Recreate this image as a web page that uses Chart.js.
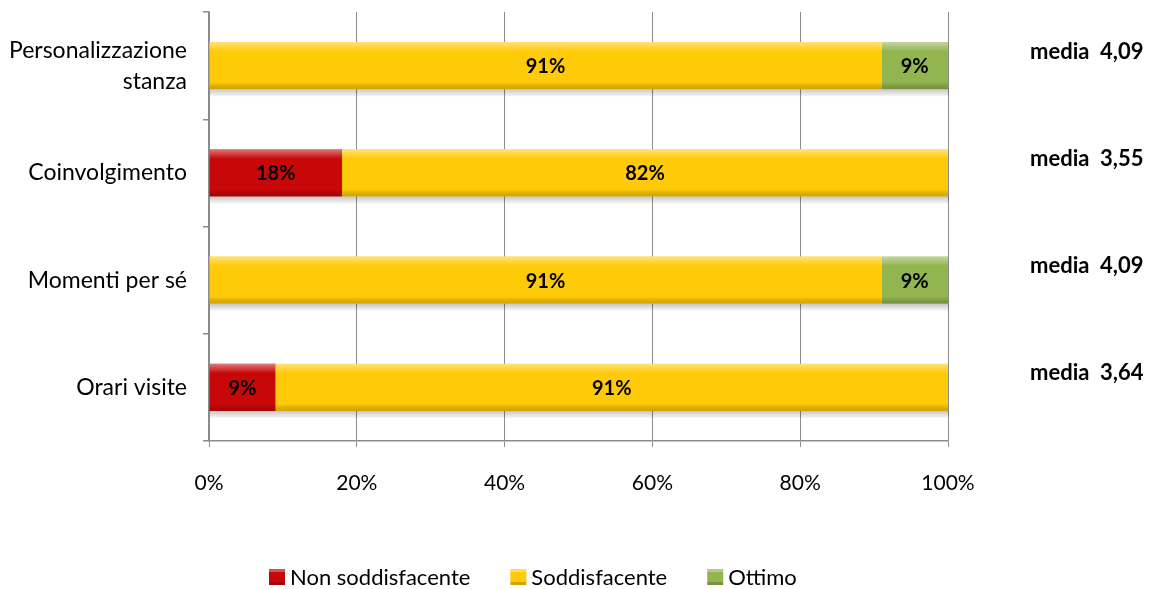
<!DOCTYPE html>
<html lang="it">
<head>
<meta charset="UTF-8">
<title>Soddisfazione</title>
<script src="https://cdn.jsdelivr.net/npm/chart.js"></script>
<style>
  html, body { margin: 0; padding: 0; background: #fff; }
  #wrap { width: 1149px; height: 589px; }
</style>
</head>
<body>
<div id="wrap"><canvas id="grafico"></canvas></div>
<script>
// categorie e percentuali per ciascun giudizio
const categorie = [['Personalizzazione', 'stanza'], 'Coinvolgimento', 'Momenti per sé', 'Orari visite'];
const nonSoddisfacente = [0, 18, 0, 9];
const soddisfacente = [91, 82, 91, 91];
const ottimo = [9, 0, 9, 0];
const medie = ['4,09', '3,55', '4,09', '3,64'];
const tickX = [0, 20, 40, 60, 80, 100];

const FONT = 'Lato, "Noto Sans", sans-serif';

// ombra grigia sotto ogni barra
const ombraBarre = {
  id: 'ombraBarre',
  beforeDatasetsDraw(chart) {
    const ctx = chart.ctx;
    const xs = chart.scales.x;
    const meta = chart.getDatasetMeta(0);
    ctx.save();
    meta.data.forEach(bar => {
      const bottom = bar.y + bar.height / 2;
      const g = ctx.createLinearGradient(0, bottom, 0, bottom + 7);
      g.addColorStop(0, 'rgba(0,0,0,0.22)');
      g.addColorStop(1, 'rgba(0,0,0,0.03)');
      ctx.fillStyle = g;
      ctx.fillRect(xs.getPixelForValue(0) + 1, bottom, xs.getPixelForValue(100) - xs.getPixelForValue(0), 7);
    });
    ctx.restore();
  }
};

// riflesso chiaro in alto e bordo scuro in basso, etichette percentuali
const rifinitura = {
  id: 'rifinitura',
  afterDatasetsDraw(chart) {
    const ctx = chart.ctx;
    ctx.save();
    chart.data.datasets.forEach((ds, i) => {
      const meta = chart.getDatasetMeta(i);
      meta.data.forEach((bar, j) => {
        const v = ds.data[j];
        if (!v) return;
        const left = Math.min(bar.x, bar.base);
        const w = Math.abs(bar.x - bar.base);
        const top = bar.y - bar.height / 2;
        const h = bar.height;
        const g = ctx.createLinearGradient(0, top, 0, top + h);
        g.addColorStop(0, 'rgba(255,255,255,0.45)');
        g.addColorStop(0.12, 'rgba(255,255,255,0.18)');
        g.addColorStop(0.2, 'rgba(255,255,255,0)');
        g.addColorStop(0.85, 'rgba(0,0,0,0)');
        g.addColorStop(0.92, 'rgba(0,0,0,0.12)');
        g.addColorStop(1, 'rgba(0,0,0,0.2)');
        ctx.fillStyle = g;
        ctx.fillRect(left, top, w, h);
        ctx.fillStyle = '#000';
        ctx.font = 'bold 20px ' + FONT;
        ctx.textAlign = 'center';
        ctx.textBaseline = 'middle';
        ctx.fillText(v + '%', left + w / 2, bar.y + 1);
      });
    });
    ctx.restore();
  }
};

// medie scritte a destra del grafico
const etichetteMedia = {
  id: 'etichetteMedia',
  afterDraw(chart) {
    const ctx = chart.ctx;
    const ys = chart.scales.y;
    ctx.save();
    ctx.fillStyle = '#000';
    ctx.font = 'bold 22px ' + FONT;
    ctx.textAlign = 'left';
    ctx.textBaseline = 'middle';
    medie.forEach((m, i) => {
      ctx.fillText('media  ' + m, 1030, ys.getPixelForValue(i) - 14);
    });
    ctx.restore();
  }
};

// legenda in basso: quadratino colorato e nome della serie
const legenda = {
  id: 'legenda',
  afterDraw(chart) {
    const ctx = chart.ctx;
    const y = 577;
    const box = 16, gap = 5, spazio = 40;
    ctx.save();
    ctx.font = '22px ' + FONT;
    ctx.textBaseline = 'middle';
    ctx.textAlign = 'left';
    let x = 269;
    chart.data.datasets.forEach(ds => {
      const w = ctx.measureText(ds.label).width;
      ctx.fillStyle = ds.backgroundColor;
      ctx.fillRect(x, y - box / 2, box, box);
      ctx.fillStyle = 'rgba(255,255,255,0.3)';
      ctx.fillRect(x, y - box / 2, box, 3);
      ctx.fillStyle = 'rgba(0,0,0,0.18)';
      ctx.fillRect(x, y + box / 2 - 3, box, 3);
      ctx.fillStyle = '#000';
      ctx.fillText(ds.label, x + box + gap, y + 1);
      x += box + gap + w + spazio;
    });
    ctx.restore();
  }
};

new Chart(document.getElementById('grafico'), {
  type: 'bar',
  data: {
    labels: categorie,
    datasets: [
      { label: 'Non soddisfacente', data: nonSoddisfacente, backgroundColor: '#c80808' },
      { label: 'Soddisfacente', data: soddisfacente, backgroundColor: '#ffca08' },
      { label: 'Ottimo', data: ottimo, backgroundColor: '#92b550' }
    ]
  },
  options: {
    indexAxis: 'y',
    responsive: true,
    maintainAspectRatio: false,
    animation: false,
    categoryPercentage: 1,
    barPercentage: 0.44,
    layout: { padding: { top: 12, right: 201, bottom: 88, left: 0 } },
    plugins: {
      tooltip: { enabled: false },
      legend: { display: false }
    },
    scales: {
      x: {
        stacked: true,
        min: 0,
        max: 100,
        afterBuildTicks(scale) { scale.ticks = tickX.map(v => ({ value: v })); },
        grid: { color: '#8c8c8c', lineWidth: 1, tickLength: 6 },
        border: { color: '#8c8c8c', width: 1.5 },
        ticks: {
          color: '#000',
          padding: 24,
          font: { family: FONT, size: 21 },
          callback: v => v + '%'
        },
        afterFit(scale) {
          scale.height = 60;
          scale.paddingLeft = 0;
          scale.paddingRight = 0;
        }
      },
      y: {
        stacked: true,
        grid: { offset: true, drawOnChartArea: false, color: '#8c8c8c', lineWidth: 1.5, tickLength: 6 },
        border: { color: '#8c8c8c', width: 1.5 },
        ticks: {
          color: '#000',
          padding: 16,
          font: { family: FONT, size: 23, lineHeight: 1.35 }
        },
        afterFit(scale) {
          scale.width = 209;
          scale.paddingTop = 0;
          scale.paddingBottom = 0;
        }
      }
    }
  },
  plugins: [ombraBarre, rifinitura, etichetteMedia, legenda]
});
</script>
</body>
</html>
